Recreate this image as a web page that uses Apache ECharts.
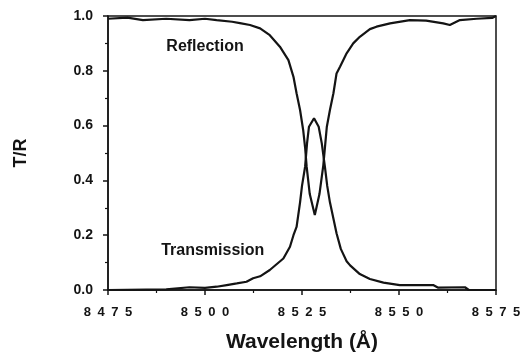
<!DOCTYPE html>
<html>
<head>
<meta charset="utf-8">
<script src="https://cdn.jsdelivr.net/npm/echarts@6/dist/echarts.min.js"></script>
<style>
  html, body { margin: 0; padding: 0; background: #fff; }
  #chart { width: 523px; height: 356px; }
</style>
</head>
<body>
<div id="chart"></div>
<script>
// values
const reflectionWl = [
  8475, 8480, 8484, 8490, 8496, 8500, 8503, 8507, 8509, 8511.6, 8514.2, 8516.7,
  8519.3, 8521.5, 8522.8, 8523.6, 8524.5, 8525.3, 8525.8, 8526.2, 8527, 8528.3,
  8529.5, 8530.5, 8531.4, 8532.2, 8533.1, 8533.9, 8534.8, 8536.5, 8538.2, 8539.9,
  8542.5, 8544.2, 8547.7, 8552.8, 8557, 8561.4, 8563.1, 8565.7, 8570, 8574, 8575
];
const reflection = [
  0.99, 0.994, 0.985, 0.99, 0.985, 0.99, 0.985, 0.979, 0.974, 0.967, 0.955, 0.93,
  0.888, 0.839, 0.778, 0.718, 0.657, 0.584, 0.52, 0.45, 0.35, 0.274,
  0.35, 0.456, 0.596, 0.657, 0.718, 0.79, 0.815, 0.864, 0.9, 0.924,
  0.952, 0.961, 0.973, 0.985, 0.983, 0.973, 0.967, 0.985, 0.99, 0.993, 1.0
];

const transmissionWl = [
  8475, 8490, 8496, 8500, 8503, 8505.6, 8508.2, 8510.7, 8512.4, 8514.2, 8516.7,
  8520.2, 8521.9, 8522.8, 8523.6, 8524.5, 8525, 8525.8, 8526.3, 8526.8, 8528.1,
  8529.3, 8530.1, 8530.9, 8531.5, 8532.2, 8533.9, 8535, 8536.5, 8537.4, 8539.9,
  8542.5, 8546, 8550.2, 8558.8, 8560, 8567, 8568, 8575
];
const transmission = [
  0.0, 0.002, 0.01, 0.008, 0.012, 0.018, 0.024, 0.03, 0.043, 0.05, 0.073,
  0.115, 0.158, 0.2, 0.23, 0.32, 0.38, 0.45, 0.535, 0.596, 0.627,
  0.596, 0.535, 0.45, 0.38, 0.32, 0.207, 0.15, 0.105, 0.09, 0.058,
  0.04, 0.027, 0.018, 0.018, 0.009, 0.01, 0.0, 0.0
];

// curve labels and where they sit (data coords)
const labelNames = ["Reflection", "Transmission"];
const labelAt = [[8500, 0.887], [8502, 0.142]];

const xTitle = "Wavelength (Å)";
const yTitle = "T/R";

const INK = "#141414";
const FONT = "'Liberation Sans', Arial, sans-serif";

const pairs = (xs, ys) => xs.map((x, i) => [x, ys[i]]);

// invisible marker carrying a text label at a data coordinate
function textMark(text, coord) {
  return {
    symbol: "circle",
    symbolSize: 1,
    silent: true,
    itemStyle: { color: "rgba(0,0,0,0)" },
    label: {
      show: true, position: "inside", color: INK,
      fontFamily: FONT, fontWeight: "bold", fontSize: 16,
      formatter: text,
    },
    data: [{ coord }],
  };
}

const chart = echarts.init(document.getElementById("chart"), null, { renderer: "canvas" });

const axisCommon = {
  axisLine: { show: true, lineStyle: { color: INK, width: 1.5 } },
  axisTick: { show: true, inside: false, length: 5, lineStyle: { color: INK, width: 1.5 } },
  minorTick: { show: true, splitNumber: 2, length: 3, lineStyle: { color: INK, width: 1.2 } },
  splitLine: { show: false },
};

chart.setOption({
  animation: false,
  grid: {
    left: 108, right: 27, top: 16, bottom: 66,
    outerBoundsMode: "none",
    show: true, borderColor: INK, borderWidth: 1.5, backgroundColor: "transparent",
  },
  xAxis: {
    ...axisCommon,
    type: "value",
    min: 8475, max: 8575, interval: 25,
    name: xTitle,
    nameLocation: "middle",
    nameGap: 42,
    nameTextStyle: { color: INK, fontFamily: FONT, fontWeight: "bold", fontSize: 21 },
    axisLabel: {
      color: INK, fontFamily: FONT, fontWeight: "bold", fontSize: 13, margin: 16,
      formatter: (v) => String(v).split("").join("\u2002"),
    },
  },
  yAxis: {
    ...axisCommon,
    type: "value",
    min: 0, max: 1, interval: 0.2,
    name: yTitle,
    nameLocation: "middle",
    nameGap: 78,
    nameRotate: 90,
    nameTextStyle: { color: INK, fontFamily: FONT, fontWeight: "bold", fontSize: 18 },
    axisLabel: {
      color: INK, fontFamily: FONT, fontWeight: "bold", fontSize: 14, margin: 15,
      formatter: (v) => v.toFixed(1),
    },
  },
  series: [
    {
      name: "Reflection",
      type: "line",
      data: pairs(reflectionWl, reflection),
      showSymbol: false,
      lineStyle: { color: INK, width: 2.2 },
      markPoint: textMark(labelNames[0], labelAt[0]),
    },
    {
      name: "Transmission",
      type: "line",
      data: pairs(transmissionWl, transmission),
      showSymbol: false,
      lineStyle: { color: INK, width: 2.2 },
      markPoint: textMark(labelNames[1], labelAt[1]),
    },
  ],
});
</script>
</body>
</html>
